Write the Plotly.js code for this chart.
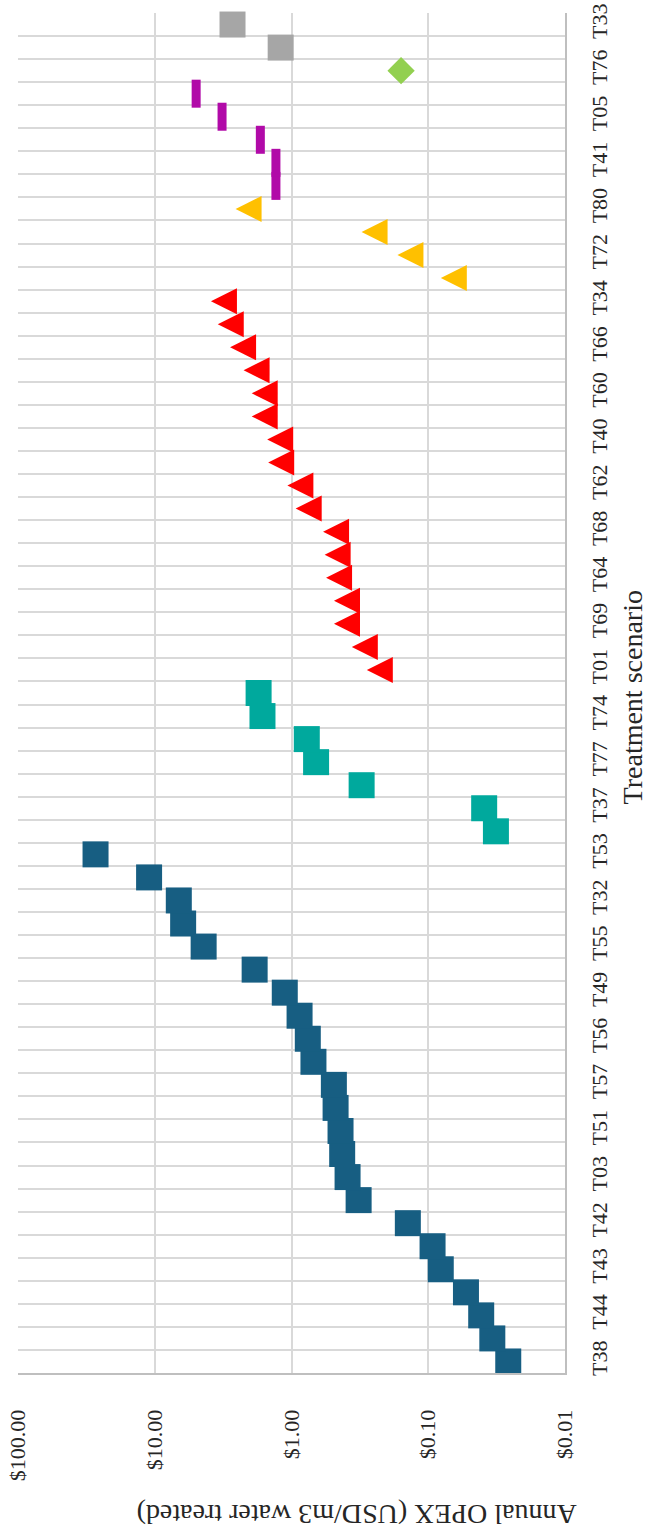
<!DOCTYPE html>
<html>
<head>
<meta charset="utf-8">
<script src="https://cdn.plot.ly/plotly-3.0.1.min.js"></script>
<style>
  html, body { margin: 0; padding: 0; background: #ffffff; }
  #chart { width: 648px; height: 1532px; }
</style>
</head>
<body>
<div id="chart"></div>
<script>
// Scenario labels on the category axis (every second scenario carries a label)
const scenarioLabels = ['T38','T44','T43','T42','T03','T51','T57','T56','T49','T55',
                        'T32','T53','T37','T77','T74','T01','T69','T64','T68','T62',
                        'T40','T60','T66','T34','T72','T80','T41','T05','T76','T33'];

// Annual OPEX (USD per m3 of water treated), scenarios in ranked order, one array per group
const opexGroup1 = [0.026, 0.034, 0.041, 0.053, 0.081, 0.093, 0.141, 0.323, 0.389, 0.426,
                    0.438, 0.476, 0.490, 0.691, 0.760, 0.873, 1.12, 1.86, 4.39, 6.20,
                    6.67, 11.0, 27.1];
const opexGroup2 = [0.032, 0.039, 0.307, 0.661, 0.773, 1.63, 1.74];
const opexGroup3 = [0.226, 0.291, 0.393, 0.393, 0.449, 0.460, 0.472, 0.749, 0.861, 1.19,
                    1.21, 1.57, 1.57, 1.80, 2.26, 2.78, 3.12];
const opexGroup4 = [0.065, 0.135, 0.247, 2.06];
const opexGroup5 = [1.30, 1.30, 1.69, 3.22, 4.98];
const opexGroup6 = [0.158];
const opexGroup7 = [1.20, 2.70];

// Value axis ticks
const valueTicks = [100, 10, 1, 0.1, 0.01];
const valueTickText = ['$100.00', '$10.00', '$1.00', '$0.10', '$0.01'];

// Marker style per group
const groupStyles = [
  { values: opexGroup1, marker: { symbol: 'square', size: 26, color: '#175E82' } },
  { values: opexGroup2, marker: { symbol: 'square', size: 26, color: '#00A99D' } },
  { values: opexGroup3, marker: { symbol: 'arrow-down', angle: 90, standoff: 13, size: 26, color: '#FF0000' } },
  { values: opexGroup4, marker: { symbol: 'arrow-down', angle: 90, standoff: 13, size: 26, color: '#FFC000' } },
  { values: opexGroup5, marker: { symbol: 'line-ns-open', size: 20, color: '#B10AA8', line: { width: 9 } } },
  { values: opexGroup6, marker: { symbol: 'diamond', size: 21, color: '#92D050' } },
  { values: opexGroup7, marker: { symbol: 'square', size: 26, color: '#A6A6A6' } }
];

// Groups follow each other along the scenario axis
let rank = 0;
const traces = groupStyles.map(g => {
  const pos = g.values.map((_, k) => rank + k);
  rank += g.values.length;
  return {
    type: 'scatter', mode: 'markers',
    x: g.values, y: pos,
    marker: Object.assign({ line: { width: 0 } }, g.marker),
    hoverinfo: 'skip', showlegend: false, cliponaxis: false
  };
});
const nScenarios = rank;

// empty companion trace so the labelled category axis is drawn
traces.push({ type: 'scatter', mode: 'markers', x: [], y: [], yaxis: 'y2', hoverinfo: 'skip', showlegend: false });

const serif = 'Liberation Serif, Times New Roman, serif';
const tickFont = { family: serif, size: 22, color: '#262626' };
const titleFont = { family: serif, size: 28, color: '#262626' };

const layout = {
  width: 648, height: 1532,
  margin: { l: 18, r: 83, t: 13, b: 159, pad: 0 },
  paper_bgcolor: '#ffffff', plot_bgcolor: '#ffffff',
  showlegend: false,
  font: tickFont,
  xaxis: {
    type: 'log', range: [2, -2], autorange: false,
    tickmode: 'array', tickvals: valueTicks, ticktext: valueTickText,
    tickangle: -90, tickfont: tickFont, ticks: '', ticklabelstandoff: 26,
    showgrid: true, gridcolor: '#d9d9d9', gridwidth: 2,
    zeroline: false, showline: true, linecolor: '#bfbfbf', linewidth: 2,
    fixedrange: true
  },
  yaxis: {
    range: [-0.5, nScenarios - 0.5], autorange: false,
    tickmode: 'linear', tick0: -0.5, dtick: 1,
    showticklabels: false, ticks: '',
    showgrid: true, gridcolor: '#d9d9d9', gridwidth: 2,
    zeroline: false, showline: false, fixedrange: true
  },
  yaxis2: {
    overlaying: 'y', side: 'right',
    range: [-0.5, nScenarios - 0.5], autorange: false,
    tickmode: 'array', tickvals: scenarioLabels.map((_, k) => 2 * k), ticktext: scenarioLabels,
    tickangle: -90, tickfont: tickFont, ticks: '', ticklabelstandoff: 14,
    showgrid: false, zeroline: false,
    showline: true, linecolor: '#bfbfbf', linewidth: 2, fixedrange: true
  },
  annotations: [
    {
      text: 'Annual OPEX (USD/m3 water treated)',
      xref: 'paper', yref: 'paper', x: 0.6195, y: -0.1039,
      xanchor: 'center', yanchor: 'middle', textangle: 180,
      showarrow: false, font: titleFont
    },
    {
      text: 'Treatment scenario',
      xref: 'paper', yref: 'paper', x: 1.1226, y: 0.4968,
      xanchor: 'center', yanchor: 'middle', textangle: -90,
      showarrow: false, font: titleFont
    }
  ]
};

Plotly.newPlot('chart', traces, layout, { staticPlot: true, displayModeBar: false });
</script>
</body>
</html>
